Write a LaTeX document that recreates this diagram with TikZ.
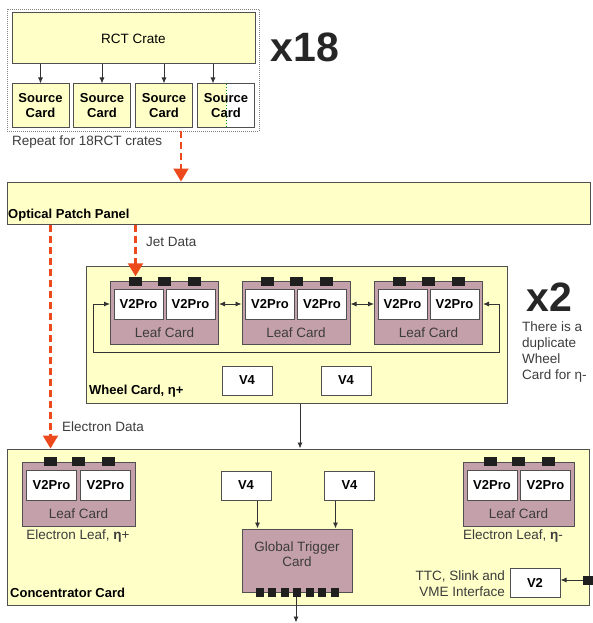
\documentclass[tikz,border=0pt]{standalone}
\usepackage{fontspec}
\setmainfont{Liberation Sans}
\usetikzlibrary{arrows.meta,calc}

\definecolor{cream}{HTML}{FFFFC8}
\definecolor{mauve}{HTML}{C4A0AA}
\definecolor{datared}{HTML}{EC4A1C}
\definecolor{edgegray}{HTML}{505050}
\definecolor{textgray}{HTML}{3C3C3C}

\tikzset{
  card/.style={draw=edgegray, line width=1pt, inner sep=0pt},
  panelbox/.style={card, fill=cream},
  leafbox/.style={card, fill=mauve, minimum width=108pt, minimum height=63pt},
  chipbox/.style={card, fill=white, minimum width=49pt, minimum height=30pt, font=\bfseries\fontsize{13}{15}\selectfont},
  srcbox/.style={card, fill=cream, minimum width=57pt, minimum height=43pt, align=center, font=\bfseries\fontsize{13}{15}\selectfont},
  padbox/.style={fill=black!88, minimum width=13pt, minimum height=9pt, inner sep=0pt},
  greytext/.style={text=textgray, font=\fontsize{13.5}{16}\selectfont, inner sep=0pt},
  labeltext/.style={font=\bfseries\fontsize{13}{16}\selectfont, inner sep=0pt},
  bigcount/.style={font=\bfseries\fontsize{41}{45}\selectfont, text=black!85, inner sep=0pt},
  link/.style={draw=black!80, line width=0.9pt, -{Latex[length=6pt,width=5pt]}},
  bilink/.style={link, {Latex[length=6pt,width=5pt]}-{Latex[length=6pt,width=5pt]}},
  datalink/.style={draw=datared, line width=2.2pt, dash pattern=on 7pt off 4pt, -{Triangle[length=13pt,width=15pt]}},
}

\begin{document}
\begin{tikzpicture}[x=1pt, y=-1pt]
\useasboundingbox (0,0) rectangle (592,623);

% RCT crate and its source cards
\node[draw=gray, dash pattern=on 1pt off 1pt, line width=0.8pt, minimum width=252pt, minimum height=122pt, inner sep=0pt] (rctgroup) at (133,70) {};
\node[panelbox, minimum width=243pt, minimum height=51pt, font=\fontsize{13.5}{16}\selectfont] (rct) at (133.5,38.5) {RCT Crate};
\node[srcbox] (srcA) at (40.5,105.5) {Source\\Card};
\node[srcbox] (srcB) at (102,105.5) {Source\\Card};
\node[srcbox] (srcC) at (164,105.5) {Source\\Card};
\node[srcbox, fill=white, path picture={
    \fill[cream] (path picture bounding box.south west) rectangle (path picture bounding box.north);
    \draw[green!60!black, dotted] (path picture bounding box.south) -- (path picture bounding box.north);}] (srcD) at (226,105.5) {Source\\Card};
\draw[link] (rct.south -| srcA) -- (srcA.north);
\draw[link] (rct.south -| srcB) -- (srcB.north);
\draw[link] (rct.south -| srcC) -- (srcC.north);
\draw[link] ($(rct.south -| srcD)+(-13,0)$) -- ($(srcD.north)+(-13,0)$);
\node[greytext, anchor=west] (repeat) at (12,142) {Repeat for 18RCT crates};
\node[bigcount] (xcrates) at (305,47) {x18};

% Optical patch panel
\node[panelbox, minimum width=583pt, minimum height=42pt] (panel) at (298.5,203) {};
\node[labeltext, anchor=west] (paneltext) at (8,215) {Optical Patch Panel};
\coordinate (crateout) at ($(rctgroup.south)+(48,0)$);
\draw[datalink] (crateout) -- (crateout |- panel.north);

% Wheel card
\node[panelbox, minimum width=421pt, minimum height=137pt] (wheel) at (296.5,334.5) {};
\node[labeltext, anchor=west] (wheeltext) at (89,391) {Wheel Card, η+};

% First leaf card
\node[leafbox] (leafA) at (164.5,313) {};
\node[chipbox] (chipA1) at ($(leafA)+(-26,-9)$) {V2Pro};
\node[chipbox] (chipA2) at ($(leafA)+(26,-9)$) {V2Pro};
\node[greytext] at ($(leafA)+(0,20)$) {Leaf Card};
\foreach \dx [count=\i] in {-29,0,30} \node[padbox] (padA\i) at ($(leafA.north)+(\dx,0)$) {};

% Second leaf card
\node[leafbox] (leafB) at (296,313) {};
\node[chipbox] (chipB1) at ($(leafB)+(-26,-9)$) {V2Pro};
\node[chipbox] (chipB2) at ($(leafB)+(26,-9)$) {V2Pro};
\node[greytext] at ($(leafB)+(0,20)$) {Leaf Card};
\foreach \dx [count=\i] in {-29,0,30} \node[padbox] (padB\i) at ($(leafB.north)+(\dx,0)$) {};

% Third leaf card
\node[leafbox] (leafC) at (428.5,313) {};
\node[chipbox] (chipC1) at ($(leafC)+(-26,-9)$) {V2Pro};
\node[chipbox] (chipC2) at ($(leafC)+(26,-9)$) {V2Pro};
\node[greytext] at ($(leafC)+(0,20)$) {Leaf Card};
\foreach \dx [count=\i] in {-29,0,30} \node[padbox] (padC\i) at ($(leafC.north)+(\dx,0)$) {};

\draw[bilink] (leafA.east |- chipA2) -- (leafB.west |- chipB1);
\draw[bilink] (leafB.east |- chipB2) -- (leafC.west |- chipC1);
\draw[bilink] (leafA.west |- chipA1) -- ++(-17,0) -- ++(0,48) -| ($(leafC.east |- chipC2)+(16,0)$) -- (leafC.east |- chipC2);

\node[chipbox, minimum width=50pt, minimum height=29pt] (wheelV4A) at (247,380.5) {V4};
\node[chipbox, minimum width=50pt, minimum height=29pt] (wheelV4B) at (346,380.5) {V4};

\draw[datalink] (panel.south -| padA1) -- (padA1.north);
\node[greytext, anchor=west] (jettext) at (146,242) {Jet Data};

\node[bigcount] (xwheels) at (549,297) {x2};
\node[greytext, anchor=north west, align=left] (duptext) at (522,322) {There is a\\duplicate\\Wheel\\Card for η-};

% Concentrator card
\node[panelbox, minimum width=582pt, minimum height=156pt] (conc) at (298,527) {};
\node[labeltext, anchor=west] (conctext) at (10,593) {Concentrator Card};
\coordinate (wheelout) at ($(wheel.south)+(3.5,0)$);
\draw[link] (wheelout) -- (wheelout |- conc.north);

% Electron leaf, eta+
\node[leafbox, minimum width=113pt, minimum height=64pt] (eleafA) at (78.5,494) {};
\node[chipbox, minimum width=50pt] (echipA1) at ($(eleafA)+(-27,-8.5)$) {V2Pro};
\node[chipbox, minimum width=50pt] (echipA2) at ($(eleafA)+(27,-8.5)$) {V2Pro};
\node[greytext] at ($(eleafA)+(0,20)$) {Leaf Card};
\foreach \dx [count=\i] in {-28,0,30} \node[padbox] (padE\i) at ($(eleafA.north)+(\dx,0)$) {};
\node[greytext] (eleafAtext) at (78,536) {Electron Leaf, \textbf{η}+};

\draw[datalink] (panel.south -| padE1) -- (padE1 |- conc.north);
\node[greytext, anchor=west] (electext) at (62,427) {Electron Data};

% Electron leaf, eta-
\node[leafbox, minimum width=111pt, minimum height=64pt] (eleafB) at (518.5,494) {};
\node[chipbox, minimum width=50pt] (echipB1) at ($(eleafB)+(-26.5,-8.5)$) {V2Pro};
\node[chipbox, minimum width=50pt] (echipB2) at ($(eleafB)+(27,-8.5)$) {V2Pro};
\node[greytext] at ($(eleafB)+(0,20)$) {Leaf Card};
\foreach \dx [count=\i] in {-28,0,30} \node[padbox] (padF\i) at ($(eleafB.north)+(\dx,0)$) {};
\node[greytext] (eleafBtext) at (513,536) {Electron Leaf, \textbf{η}-};

% Global trigger card
\node[chipbox, minimum width=50pt, minimum height=29pt] (concV4A) at (246,485.5) {V4};
\node[chipbox, minimum width=50pt, minimum height=29pt] (concV4B) at (349.5,485.5) {V4};
\node[leafbox, minimum width=110pt, minimum height=63pt] (gt) at (297,560.5) {};
\node[greytext, align=center, font=\fontsize{13.5}{15}\selectfont] (gttext) at (297,554.5) {Global Trigger\\Card};
\foreach \dx [count=\i] in {-37.5,-25,...,37.5} \node[padbox, minimum width=8pt] (gtpad\i) at ($(gt.south)+(\dx,0)$) {};
\coordinate (gtinA) at ($(gt.north west)+(16,0)$);
\coordinate (gtinB) at ($(gt.north east)+(-17,0)$);
\draw[link] (gtinA |- concV4A.south) -- (gtinA);
\draw[link] (gtinB |- concV4B.south) -- (gtinB);
\coordinate (gtout) at ($(gt.south)+(-1,30)$);
\draw[link] (gtout |- gtpad4.south) -- (gtout);

% VME interface
\node[chipbox, minimum width=50pt, minimum height=29pt] (vmeV2) at (535,582.5) {V2};
\node[greytext, anchor=east, align=right] (vmetext) at (505,583.5) {TTC, Slink and\\VME Interface};
\node[padbox, minimum width=10pt] (vmepad) at (588,580) {};
\draw[link] (vmepad.west) -- (vmeV2.east |- vmepad.west);

\end{tikzpicture}
\end{document}
